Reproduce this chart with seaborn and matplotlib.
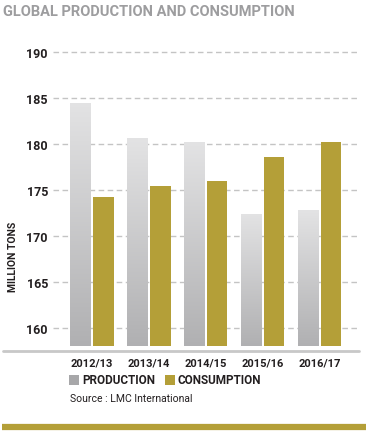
import numpy as np
import pandas as pd
import matplotlib
matplotlib.use("Agg")
import matplotlib.pyplot as plt
import seaborn as sns
from matplotlib.patches import Rectangle
from matplotlib.lines import Line2D

seasons = ["2012/13", "2013/14", "2014/15", "2015/16", "2016/17"]
production = [184.5, 180.6, 180.2, 172.4, 172.8]
consumption = [174.2, 175.4, 176.0, 178.6, 180.2]
series = ["PRODUCTION", "CONSUMPTION"]

gold = "#b49f38"
gray = "#a7a7a9"
text_col = "#231f20"

df = pd.DataFrame({
    "season": seasons * 2,
    "series": [series[0]] * len(seasons) + [series[1]] * len(seasons),
    "value": production + consumption,
})

sns.set_style("white")
plt.rcParams['font.family'] = ['Roboto', 'DejaVu Sans']

fig = plt.figure(figsize=(3.66, 4.35), dpi=100)
ax = fig.add_axes([0.1448, 0.2023, 0.833, 0.6864])

sns.barplot(data=df, x="season", y="value", hue="series",
            palette=[gray, gold], saturation=1, width=0.8, gap=0.09,
            linewidth=0, legend=False, ax=ax, zorder=3)

ax.set_yticks([160, 165, 170, 175, 180, 185, 190])
ax.yaxis.grid(True, linestyle=(0, (4, 2.5)), color="#c4c4c4", linewidth=1, zorder=0)
ax.xaxis.grid(False)
ax.set_axisbelow(True)
for s in ax.spines.values():
    s.set_visible(False)

# gradient fill on production bars
grad = np.linspace(0, 1, 256).reshape(-1, 1)
cmap = matplotlib.colors.LinearSegmentedColormap.from_list("g", ["#b0b0b2", "#e3e3e4"])
for p in ax.patches[:len(seasons)]:
    x0, y0 = p.get_x(), p.get_y()
    w, h = p.get_width(), p.get_height()
    im = ax.imshow(grad, extent=[x0, x0 + w, 158, y0 + h], origin="lower",
                   aspect="auto", cmap=cmap, zorder=3.5)
    im.set_clip_path(p)

ax.set_xlim(-0.68, 4.67)
ax.set_ylim(158, 190.5)

ax.tick_params(axis="y", length=0, pad=3.6, labelsize=9, labelcolor=text_col)
ax.tick_params(axis="x", length=0, pad=8, labelsize=8, labelcolor=text_col)
for lab in ax.get_xticklabels() + ax.get_yticklabels():
    lab.set_fontweight("bold")
ax.set_xlabel("")
ax.set_ylabel("")

fig.text(0.036, 1 - 257 / 435, "MILLION TONS", rotation=90, ha="center", va="center",
         fontsize=7.5, fontweight="bold", color=text_col)

# baseline
fig.add_artist(Line2D([3 / 366, 359 / 366], [1 - 352 / 435] * 2, color="#c8c8c8", lw=2))
# bottom band
fig.add_artist(Line2D([2 / 366, 1.0], [1 - 428 / 435] * 2, color=gold, lw=4.5, solid_capstyle="butt"))

fig.text(3 / 366, 1 - 12 / 435, "GLOBAL PRODUCTION AND CONSUMPTION", ha="left", va="center",
         fontsize=10.5, fontweight="bold", color="#9d9d9f")

# legend
fig.add_artist(Rectangle((69 / 366, 1 - 386 / 435), 10 / 366, 10 / 435, facecolor=gray, edgecolor="none"))
fig.text(82 / 366, 1 - 381 / 435, series[0], ha="left", va="center",
         fontsize=8.5, fontweight="bold", color=text_col)
fig.add_artist(Rectangle((165 / 366, 1 - 386 / 435), 10 / 366, 10 / 435, facecolor=gold, edgecolor="none"))
fig.text(177 / 366, 1 - 381 / 435, series[1], ha="left", va="center",
         fontsize=8.5, fontweight="bold", color=text_col)

fig.text(70 / 366, 1 - 399 / 435, "Source : LMC International", ha="left", va="center",
         fontsize=7.5, color=text_col)

fig.savefig("out.png", dpi=100)
